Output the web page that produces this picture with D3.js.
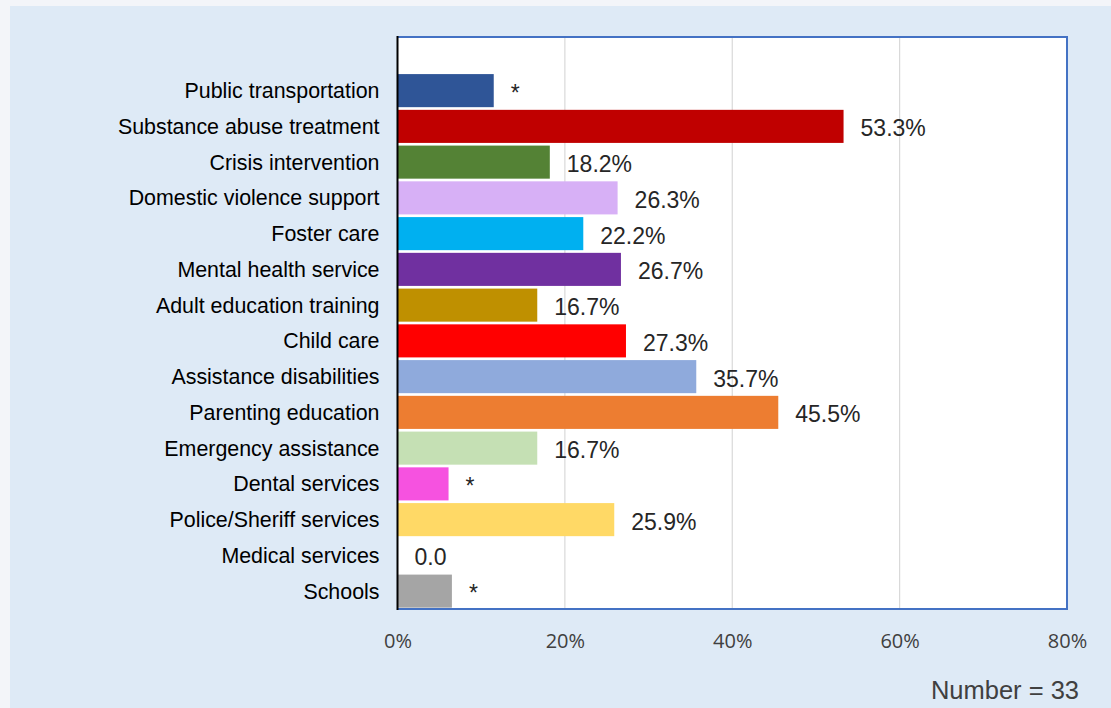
<!DOCTYPE html>
<html><head><meta charset="utf-8">
<script src="https://cdn.jsdelivr.net/npm/d3@7"></script>
<style>html,body{margin:0;padding:0;background:#f3f5f9;}svg{display:block;}</style>
</head><body>
<div id="chart"></div>
<script>
const categories = ["Public transportation","Substance abuse treatment","Crisis intervention","Domestic violence support","Foster care","Mental health service","Adult education training","Child care","Assistance disabilities","Parenting education","Emergency assistance","Dental services","Police/Sheriff services","Medical services","Schools"];
const values = [11.5, 53.3, 18.2, 26.3, 22.2, 26.7, 16.7, 27.3, 35.7, 45.5, 16.7, 6.1, 25.9, 0, 6.5];
const valueLabels = ["*","53.3%","18.2%","26.3%","22.2%","26.7%","16.7%","27.3%","35.7%","45.5%","16.7%","*","25.9%","0.0","*"];
const colors = ["#2f5597","#c00000","#548235","#d7b0f6","#00b0f0","#7030a0","#bf9000","#ff0000","#8faadc","#ed7d31","#c5e0b4","#f652e0","#ffd966","#ffffff","#a5a5a5"];
const tickValues = [0, 20, 40, 60, 80];
const noteText = "Number = 33";

const W = 1111, H = 708;
const svg = d3.select("#chart").append("svg").attr("width", W).attr("height", H);
svg.append("rect").attr("x",0).attr("y",0).attr("width",W).attr("height",H).attr("fill","#f3f5f9");
svg.append("rect").attr("x",10).attr("y",6).attr("width",W-10).attr("height",H-6).attr("fill","#deeaf6");

const L = 397.5, R = 1067, T = 37, B = 609;
const x = d3.scaleLinear().domain([0, 80]).range([L, R]);
const step = (B - T) / 16;
const y = d3.scaleBand().domain(categories).range([T + step, B]).paddingInner(0.075).paddingOuter(0.0375);

svg.append("rect").attr("x",L).attr("y",T).attr("width",R-L).attr("height",B-T).attr("fill","#ffffff");

// gridlines
svg.append("g").selectAll("line").data(tickValues.filter(d => d > 0 && d < 80)).join("line")
  .attr("x1", d => x(d)).attr("x2", d => x(d)).attr("y1", T).attr("y2", B)
  .attr("stroke", "#d9d9d9").attr("stroke-width", 1.2);

// bars
svg.append("g").selectAll("rect").data(categories).join("rect")
  .attr("x", x(0)).attr("y", d => y(d))
  .attr("width", (d,i) => x(values[i]) - x(0))
  .attr("height", y.bandwidth())
  .attr("fill", (d,i) => colors[i]);

// border
svg.append("path").attr("d", `M${L},${T}H${R}V${B}H${L}`).attr("fill","none").attr("stroke","#4472c4").attr("stroke-width",2);
svg.append("line").attr("x1",L).attr("x2",L).attr("y1",T-1).attr("y2",B+1).attr("stroke","#000").attr("stroke-width",2);

// category labels
svg.append("g").selectAll("text").data(categories).join("text")
  .attr("x", L - 18).attr("y", d => y(d) + y.bandwidth()/2 + 7.5)
  .attr("text-anchor","end").attr("font-family","Liberation Sans, Arial, sans-serif")
  .attr("font-size", 21.4).attr("fill","#000").text(d => d);

// value labels
svg.append("g").selectAll("text").data(categories).join("text")
  .attr("x", (d,i) => x(values[i]) + 17).attr("y", d => y(d) + y.bandwidth()/2 + 10)
  .attr("font-family","Liberation Sans, Arial, sans-serif")
  .attr("font-size", 23).attr("fill","#262626").text((d,i) => valueLabels[i]);

// x axis
const xAxis = d3.axisBottom(x).tickValues(tickValues).tickFormat(d => d + "%").tickSize(0).tickPadding(0);
const gx = svg.append("g").attr("transform", `translate(0,${B})`).call(xAxis);
gx.select(".domain").remove();
gx.selectAll("text").attr("y", 39).attr("dy", 0).attr("font-family","Open Sans, sans-serif")
  .attr("font-size", 20).attr("fill","#404040");

svg.append("text").attr("x", 1079).attr("y", 699).attr("text-anchor","end")
  .attr("font-family","Liberation Sans, Arial, sans-serif").attr("font-size", 25.5).attr("fill","#404040").text(noteText);
</script>
</body></html>
